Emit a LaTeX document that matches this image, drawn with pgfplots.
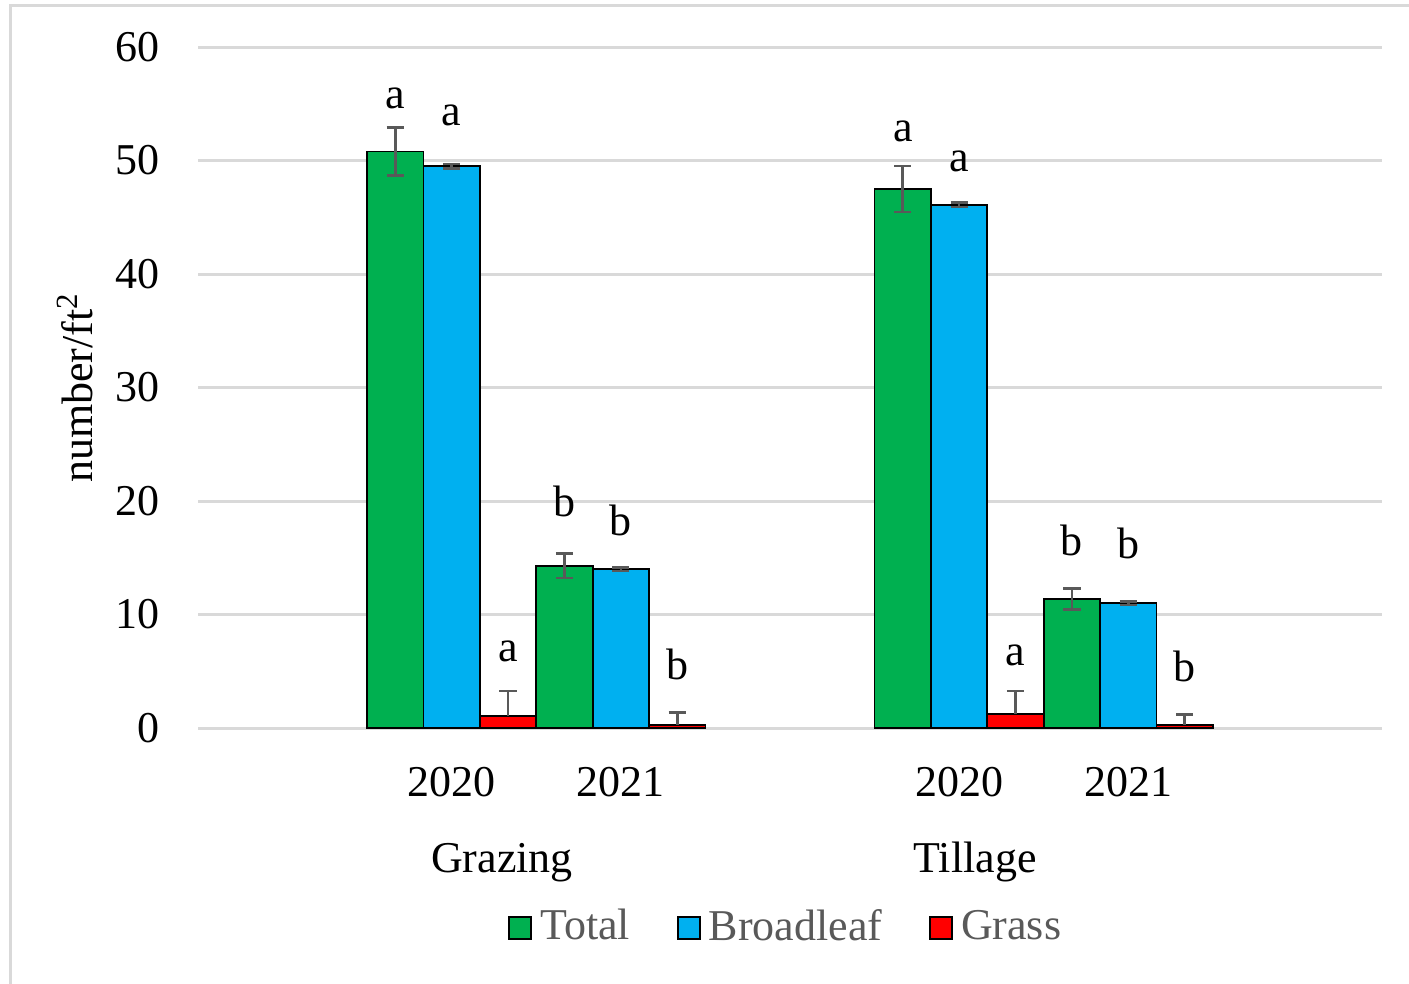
\documentclass[border=0pt]{standalone}
\usepackage{fontspec}
\setmainfont{Liberation Serif}
\usepackage{pgfplots}
\usepackage{pgfplotstable}
\pgfplotsset{compat=1.18}
\definecolor{cgreen}{HTML}{00B050}
\definecolor{cblue}{HTML}{00B0F0}
\definecolor{cred}{HTML}{FF0000}
\definecolor{errgray}{HTML}{595959}
\definecolor{gridgray}{HTML}{D9D9D9}
\definecolor{leggray}{HTML}{595959}

\pgfplotsset{
 mybar/.style={ybar, bar width=0.33333, bar shift=0, fill=#1, draw=black, line width=0.45pt,
   legend image code/.code={\draw[##1, line width=0.45pt] (0pt,-2.75pt) rectangle (5.5pt,2.75pt);}},
 myerr/.style={/pgfplots/error bars/y dir=#1, /pgfplots/error bars/y explicit,
   /pgfplots/error bars/error bar style={color=errgray, line width=0.65pt},
   /pgfplots/error bars/error mark options={rotate=90, mark size=2.15pt, line width=0.65pt, color=errgray}},
}

% x = bar centre (category 1,2 = Grazing 2020/2021; 4,5 = Tillage 2020/2021), y = mean, e = error
\pgfplotstableread{
x y e
0.66667 50.8 2.1
1.66667 14.3 1.08
3.66667 47.5 2.03
4.66667 11.35 0.93
}\total
\pgfplotstableread{
x y e
1 49.5 0.2
2 14.0 0.15
4 46.1 0.2
5 11.0 0.15
}\broad
\pgfplotstableread{
x y e
1.33333 1.08 2.18
2.33333 0.26 1.12
4.33333 1.2 2.05
5.33333 0.26 0.95
}\grass

\begin{document}
\fontsize{11}{13}\selectfont
\begin{tikzpicture}[font=\fontsize{11}{13}\selectfont]
\path[use as bounding box] (0,0) rectangle (352.25pt,245.75pt);
\draw[gridgray, line width=0.75pt] (2.5pt,-5pt) -- (2.5pt,244.4pt) -- (360pt,244.4pt);
\begin{axis}[
 at={(49.5pt,63.75pt)}, anchor=south west,
 scale only axis, width=296pt, height=170.25pt,
 xmin=-0.5, xmax=6.5, ymin=0, ymax=60,
 ytick={0,10,...,60},
 xtick={1,2,4,5}, xticklabels={2020,2021,2020,2021},
 xticklabel style={anchor=base, inner sep=0pt, yshift=-17pt},
 yticklabel style={anchor=east, inner sep=0pt, xshift=-9.5pt},
 /pgf/number format/assume math mode=true,
 major tick length=0pt,
 axis line style={draw=none},
 ymajorgrids, grid style={gridgray, line width=0.75pt},
 ylabel={number/ft\textsuperscript{2}},
 every axis y label/.style={at={(axis description cs:-0.1039,0.5)}, rotate=90, anchor=center},
 legend columns=3,
 legend style={at={(axis description cs:0.499,-0.2937)}, anchor=center, draw=none, fill=none,
   text=leggray, font=\fontsize{11}{13}\selectfont,
   /tikz/every even column/.append style={column sep=9.75pt}},
 clip=false,
]
\addplot[mybar=cgreen, myerr=both] table[x=x, y=y, y error=e] {\total};
\addlegendentry{Total}
\addplot[mybar=cblue, myerr=both] table[x=x, y=y, y error=e] {\broad};
\addlegendentry{Broadleaf}
\addplot[mybar=cred, myerr=plus] table[x=x, y=y, y error=e] {\grass};
\addlegendentry{Grass}

% significance letters
\node[anchor=base] at (axis cs:0.6667,54.6) {a};
\node[anchor=base] at (axis cs:1,53.1) {a};
\node[anchor=base] at (axis cs:1.3333,5.84) {a};
\node[anchor=base] at (axis cs:1.6667,18.6) {b};
\node[anchor=base] at (axis cs:2,17.0) {b};
\node[anchor=base] at (axis cs:2.3333,4.23) {b};
\node[anchor=base] at (axis cs:3.6667,51.66) {a};
\node[anchor=base] at (axis cs:4,49.0) {a};
\node[anchor=base] at (axis cs:4.3333,5.55) {a};
\node[anchor=base] at (axis cs:4.6667,15.24) {b};
\node[anchor=base] at (axis cs:5,14.95) {b};
\node[anchor=base] at (axis cs:5.3333,4.08) {b};

% group labels
\node[anchor=base, yshift=-36pt] at (axis cs:1.297,0) {Grazing};
\node[anchor=base, yshift=-36pt] at (axis cs:4.094,0) {Tillage};
\end{axis}
\end{tikzpicture}
\end{document}
